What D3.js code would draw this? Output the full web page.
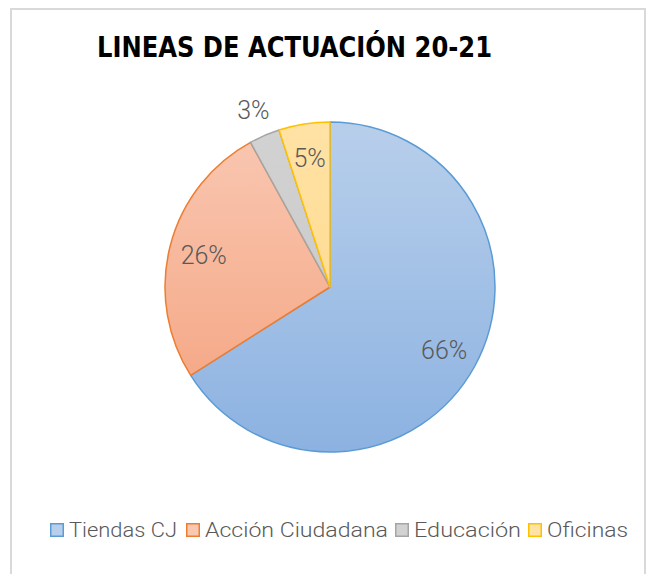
<!DOCTYPE html>
<html>
<head>
<meta charset="utf-8">
<script src="https://cdn.jsdelivr.net/npm/d3@7"></script>
<style>
  html, body { margin: 0; padding: 0; background: #fff; }
  svg { display: block; }
</style>
</head>
<body>
<svg id="chart" width="647" height="574"></svg>
<script>
// data
const categories = ["Tiendas CJ", "Acción Ciudadana", "Educación", "Oficinas"];
const shares = [66, 26, 3, 5];
const labels = ["66%", "26%", "3%", "5%"];
const title = "LINEAS DE ACTUACIÓN 20-21";

const fillTop = ["#b8cfeb", "#f9c8b3", "#d2d2d2", "#ffe2a5"];
const fillBottom = ["#8cb2e1", "#f4a17c", "#c6c6c6", "#ffd784"];
const strokes = ["#5b9bd5", "#ed7d31", "#a5a5a5", "#ffc000"];

const svg = d3.select("#chart");
const cx = 330, cy = 287, R = 165;

// outer frame
svg.append("path")
  .attr("d", "M11,580 L11,9 L645,9 L645,580")
  .attr("fill", "none")
  .attr("stroke", "#d9d9d9")
  .attr("stroke-width", 2);

svg.append("text")
  .attr("x", 97).attr("y", 57)
  .attr("textLength", 395)
  .attr("lengthAdjust", "spacingAndGlyphs")
  .style("font-family", "'Liberation Sans Narrow', 'DejaVu Sans Condensed', sans-serif")
  .style("font-weight", "bold")
  .style("font-size", "28px")
  .attr("fill", "#000")
  .text(title);

const defs = svg.append("defs");
categories.forEach((c, i) => {
  // gradient in the slice group's local space (centred on the pie)
  const g = defs.append("linearGradient")
    .attr("id", "grad" + i)
    .attr("gradientUnits", "userSpaceOnUse")
    .attr("x1", 0).attr("y1", -R)
    .attr("x2", 0).attr("y2", R);
  g.append("stop").attr("offset", "0%").attr("stop-color", fillTop[i]);
  g.append("stop").attr("offset", "100%").attr("stop-color", fillBottom[i]);
});

const pie = d3.pie().sort(null).value(d => d);
const arcs = pie(shares);
const arc = d3.arc().innerRadius(0).outerRadius(R);

const g = svg.append("g").attr("transform", `translate(${cx},${cy})`);

g.selectAll("path.slice")
  .data(arcs)
  .enter().append("path")
  .attr("class", "slice")
  .attr("d", arc)
  .attr("fill", (d, i) => `url(#grad${i})`)
  .attr("stroke", (d, i) => strokes[i])
  .attr("stroke-width", 1.5)
  .attr("stroke-linejoin", "round");

// small slices get their label outside
const labelArcIn = d3.arc().innerRadius(R * 0.79).outerRadius(R * 0.79);
const labelArcOut = d3.arc().innerRadius(R * 1.17).outerRadius(R * 1.17);

g.selectAll("text.lbl")
  .data(arcs)
  .enter().append("text")
  .attr("class", "lbl")
  .attr("transform", d => {
    const a = (d.endAngle - d.startAngle) < 0.2 ? labelArcOut : labelArcIn;
    const p = a.centroid(d);
    return `translate(${p[0]},${p[1] + 9})`;
  })
  .attr("text-anchor", "middle")
  .style("font-family", "Roboto, 'DejaVu Sans', sans-serif")
  .style("font-weight", 300)
  .style("font-size", "25px")
  .attr("fill", "#595959")
  .text((d, i) => labels[i]);

// legend
const legendX = [50, 186, 395, 528];
const textW = [108, 183, 107, 81];
const leg = svg.append("g").attr("class", "legend");
const item = leg.selectAll("g").data(categories).enter().append("g")
  .attr("transform", (d, i) => `translate(${legendX[i]},523)`);
item.append("rect")
  .attr("x", 0.75).attr("y", 0.75)
  .attr("width", 12.5).attr("height", 12.5)
  .attr("fill", (d, i) => fillTop[i])
  .attr("stroke", (d, i) => strokes[i])
  .attr("stroke-width", 1.5);
item.append("text")
  .attr("x", 19).attr("y", 14)
  .attr("textLength", (d, i) => textW[i])
  .attr("lengthAdjust", "spacingAndGlyphs")
  .style("font-family", "Roboto, 'DejaVu Sans', sans-serif")
  .style("font-weight", 300)
  .style("font-size", "21px")
  .attr("fill", "#595959")
  .text(d => d);
</script>
</body>
</html>
